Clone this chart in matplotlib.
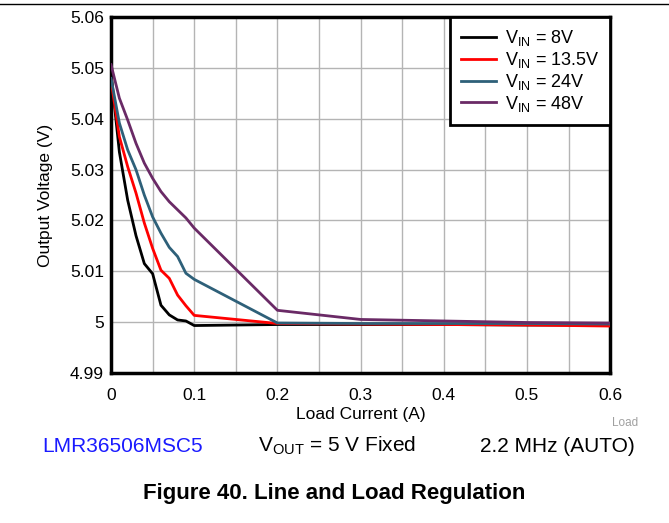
import numpy as np
import matplotlib.pyplot as plt
from matplotlib.lines import Line2D

plt.rcParams['font.family'] = ['Liberation Sans', 'DejaVu Sans']
plt.rcParams['mathtext.fontset'] = 'custom'
plt.rcParams['mathtext.rm'] = 'Liberation Sans'

# Data
load_a = [0, 0.01, 0.02, 0.03, 0.04, 0.05, 0.06, 0.07, 0.08, 0.09, 0.1,
          0.2, 0.3, 0.4, 0.5, 0.6]
vout_8v = [5.0490, 5.0335, 5.0240, 5.0170, 5.0115, 5.0095, 5.0033, 5.0014,
           5.0004, 5.0002, 4.9993, 4.9995, 4.9995, 4.9995, 4.9994, 4.9994]
vout_13v5 = [5.0477, 5.0365, 5.0306, 5.0254, 5.0195, 5.0145, 5.0102, 5.0086,
             5.0053, 5.0032, 5.0013, 4.9997, 4.9996, 4.9995, 4.9994, 4.9992]
vout_24v = [5.0480, 5.0392, 5.0339, 5.0300, 5.0250, 5.0207, 5.0175, 5.0147,
            5.0129, 5.0096, 5.0084, 4.9998, 4.9997, 4.9997, 4.9997, 4.9996]
vout_48v = [5.0507, 5.0441, 5.0398, 5.0352, 5.0313, 5.0283, 5.0257, 5.0237,
            5.0221, 5.0205, 5.0185, 5.0023, 5.0005, 5.0002, 4.9999, 4.9998]

series = [
    (vout_8v, "#000000", r"V$_\mathregular{IN}$ = 8V"),
    (vout_13v5, "#ff0000", r"V$_\mathregular{IN}$ = 13.5V"),
    (vout_24v, "#2e6079", r"V$_\mathregular{IN}$ = 24V"),
    (vout_48v, "#6a2a66", r"V$_\mathregular{IN}$ = 48V"),
]

x_ticks = [0, 0.1, 0.2, 0.3, 0.4, 0.5, 0.6]
y_ticks = [4.99, 5.0, 5.01, 5.02, 5.03, 5.04, 5.05, 5.06]

fig = plt.figure(figsize=(6.69, 5.23), dpi=100)
ax = fig.add_axes([0.166, 0.2873, 0.746, 0.6793])

for vals, color, label in series:
    ax.plot(load_a, vals, color=color, lw=2, label=label, zorder=3)

ax.set_xlim(0, 0.6)
ax.set_ylim(4.99, 5.06)
ax.set_xticks(x_ticks)
ax.set_xticklabels([f"{t:g}" for t in x_ticks])
ax.set_yticks(y_ticks)
ax.set_yticklabels([f"{t:g}" for t in y_ticks])
ax.set_xticks(np.arange(0.05, 0.6, 0.1), minor=True)
ax.grid(True, which="both", color="#b4b4b4", lw=1)
ax.tick_params(which="both", length=0, labelsize=12.5)
ax.tick_params(axis="x", pad=11)
ax.tick_params(axis="y", pad=5)
for sp in ax.spines.values():
    sp.set_linewidth(2.5)

ax.set_xlabel("Load Current (A)", fontsize=12.5, labelpad=3)
ax.set_ylabel("Output Voltage (V)", fontsize=12.5, labelpad=12)

leg = ax.legend(loc="upper right", fontsize=13, frameon=True, fancybox=False,
                borderaxespad=0, handlelength=1.95, labelspacing=0.1,
                borderpad=0.6, handletextpad=0.45)
leg.get_frame().set_edgecolor("black")
leg.get_frame().set_linewidth(2)
leg.get_frame().set_alpha(1)

fig.add_artist(Line2D([0, 1], [1 - 3.5 / 523] * 2, color="black", lw=1))
fig.text(638 / 669, 1 - 423 / 523, "Load", fontsize=8.5, color="#a0a0a0",
         ha="right", va="center")
fig.text(42 / 669, 1 - 446 / 523, "LMR36506MSC5", fontsize=15,
         color="#1a1aff", ha="left", va="center")
fig.text(258 / 669, 1 - 446 / 523, r"V$_\mathregular{OUT}$ = 5 V Fixed",
         fontsize=15, ha="left", va="center")
fig.text(635 / 669, 1 - 446 / 523, "2.2 MHz (AUTO)", fontsize=15,
         ha="right", va="center")
fig.text(0.5, 1 - 494 / 523, "Figure 40. Line and Load Regulation",
         fontsize=16, fontweight="bold", ha="center", va="center")

fig.savefig("out.png", dpi=100)
